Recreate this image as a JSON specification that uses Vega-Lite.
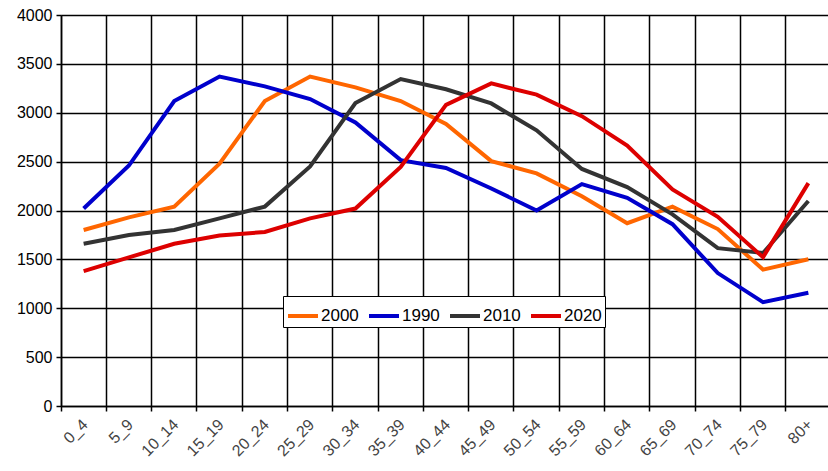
{
  "$schema": "https://vega.github.io/schema/vega-lite/v6.json",
  "autosize": {"type": "none"},
  "padding": {"left": 61, "top": 15, "right": 0, "bottom": 65},
  "width": 770,
  "height": 391,
  "background": "white",
  "data": {
    "values": [
      {"age": "0_4", "2000": 1800, "1990": 2020, "2010": 1660, "2020": 1380},
      {"age": "5_9", "2000": 1930, "1990": 2460, "2010": 1750, "2020": 1520},
      {"age": "10_14", "2000": 2040, "1990": 3120, "2010": 1800, "2020": 1660},
      {"age": "15_19", "2000": 2480, "1990": 3370, "2010": 1920, "2020": 1745},
      {"age": "20_24", "2000": 3120, "1990": 3270, "2010": 2040, "2020": 1780},
      {"age": "25_29", "2000": 3370, "1990": 3140, "2010": 2450, "2020": 1920},
      {"age": "30_34", "2000": 3260, "1990": 2900, "2010": 3100, "2020": 2020},
      {"age": "35_39", "2000": 3120, "1990": 2515, "2010": 3345, "2020": 2445},
      {"age": "40_44", "2000": 2885, "1990": 2435, "2010": 3240, "2020": 3080},
      {"age": "45_49", "2000": 2505, "1990": 2225, "2010": 3095, "2020": 3300},
      {"age": "50_54", "2000": 2380, "1990": 2000, "2010": 2820, "2020": 3185},
      {"age": "55_59", "2000": 2145, "1990": 2270, "2010": 2425, "2020": 2965},
      {"age": "60_64", "2000": 1870, "1990": 2130, "2010": 2240, "2020": 2665},
      {"age": "65_69", "2000": 2040, "1990": 1860, "2010": 1960, "2020": 2215},
      {"age": "70_74", "2000": 1810, "1990": 1360, "2010": 1615, "2020": 1935},
      {"age": "75_79", "2000": 1395, "1990": 1062, "2010": 1565, "2020": 1522},
      {"age": "80+", "2000": 1502, "1990": 1158, "2010": 2097, "2020": 2280}
    ]
  },
  "transform": [
    {"fold": ["2000", "1990", "2010", "2020"], "as": ["year", "value"]}
  ],
  "mark": {"type": "line", "strokeWidth": 4, "strokeJoin": "miter"},
  "encoding": {
    "x": {
      "field": "age",
      "type": "ordinal",
      "sort": null,
      "scale": {"type": "band", "paddingInner": 0, "paddingOuter": 0},
      "axis": {
        "title": null,
        "bandPosition": 0,
        "grid": true,
        "gridColor": "#000000",
        "gridOpacity": 1,
        "gridWidth": 1.5,
        "domainColor": "#000000",
        "domainWidth": 1.5,
        "tickColor": "#000000",
        "tickWidth": 1.5,
        "tickSize": 5,
        "labelAngle": -45,
        "labelOffset": -4,
        "labelFont": "Liberation Sans",
        "labelFontSize": 16,
        "labelColor": "#444444",
        "labelPadding": 5
      }
    },
    "y": {
      "field": "value",
      "type": "quantitative",
      "scale": {"domain": [0, 4000], "nice": false},
      "axis": {
        "title": null,
        "format": "d",
        "values": [0, 500, 1000, 1500, 2000, 2500, 3000, 3500, 4000],
        "grid": true,
        "gridColor": "#000000",
        "gridOpacity": 1,
        "gridWidth": 1.5,
        "domainColor": "#000000",
        "domainWidth": 1.5,
        "tickColor": "#000000",
        "tickWidth": 1.5,
        "tickSize": 5,
        "labelFont": "Liberation Sans",
        "labelFontSize": 16,
        "labelColor": "#000000",
        "labelPadding": 4
      }
    },
    "color": {
      "field": "year",
      "type": "nominal",
      "sort": ["2000", "1990", "2010", "2020"],
      "scale": {
        "domain": ["2000", "1990", "2010", "2020"],
        "range": ["#FF6600", "#0000CC", "#333333", "#DD0000"]
      },
      "legend": {
        "title": null,
        "orient": "none",
        "direction": "horizontal",
        "legendX": 222,
        "legendY": 281,
        "symbolType": "stroke",
        "symbolStrokeWidth": 4,
        "symbolSize": 900,
        "labelFont": "Liberation Sans",
        "labelFontSize": 17,
        "labelColor": "#000000",
        "labelOffset": 1,
        "columnPadding": 2,
        "strokeColor": "#000000",
        "fillColor": "#ffffff",
        "padding": 3
      }
    }
  }
}
